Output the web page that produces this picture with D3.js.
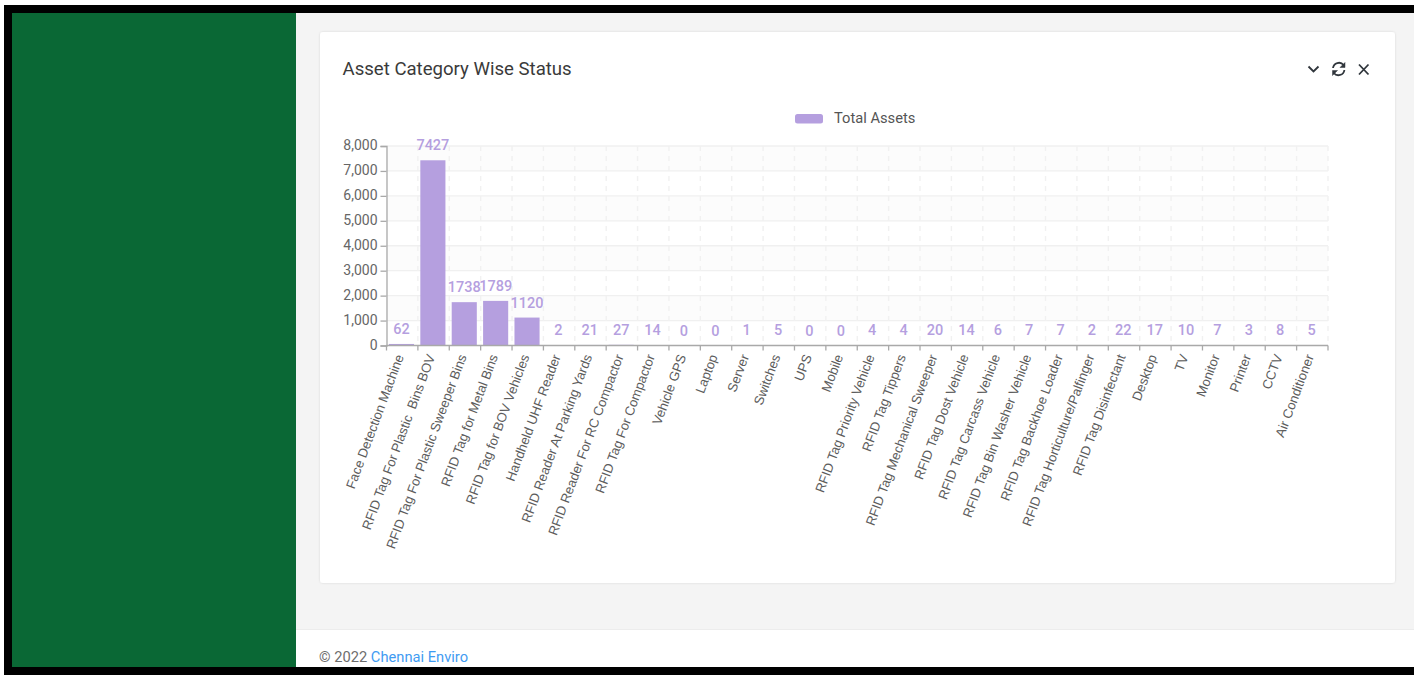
<!DOCTYPE html>
<html>
<head>
<meta charset="utf-8">
<script src="https://cdn.jsdelivr.net/npm/d3@7/dist/d3.min.js"></script>
<style>
  html, body { margin: 0; padding: 0; background: #fff; overflow: hidden; }
  svg { display: block; font-family: Roboto, sans-serif; }
  .cat-label { white-space: pre; }
</style>
</head>
<body>
<svg id="page" width="1414" height="677"></svg>
<script>
const categories = [
  "Face Detection Machine", "RFID Tag For Plastic  Bins BOV", "RFID Tag For Plastic Sweeper Bins",
  "RFID Tag for Metal Bins", "RFID Tag for BOV Vehicles", "Handheld UHF Reader",
  "RFID Reader At Parking Yards", "RFID Reader For RC Compactor", "RFID Tag For Compactor",
  "Vehicle GPS", "Laptop", "Server", "Switches", "UPS", "Mobile",
  "RFID Tag Priority Vehicle", "RFID Tag Tippers", "RFID Tag Mechanical Sweeper",
  "RFID Tag Dost Vehicle", "RFID Tag Carcass Vehicle", "RFID Tag Bin Washer Vehicle",
  "RFID Tag Backhoe Loader", "RFID Tag Horticulture/Palfinger", "RFID Tag Disinfectant",
  "Desktop", "TV", "Monitor", "Printer", "CCTV", "Air Conditioner"
];
const totalAssets = [
  62, 7427, 1738, 1789, 1120, 2, 21, 27, 14, 0, 0, 1, 5, 0, 0,
  4, 4, 20, 14, 6, 7, 7, 2, 22, 17, 10, 7, 3, 8, 5
];
const yTicks = [0, 1000, 2000, 3000, 4000, 5000, 6000, 7000, 8000];
const seriesName = "Total Assets";
const cardTitle = "Asset Category Wise Status";

const svg = d3.select("#page");

// Page shell: frame, sidebar, content area, footer
svg.append("rect").attr("width", 1414).attr("height", 677).attr("fill", "#fff");
svg.append("rect").attr("x", 296).attr("y", 13).attr("width", 1118).attr("height", 616).attr("fill", "#f4f4f4");
svg.append("rect").attr("x", 296).attr("y", 629).attr("width", 1118).attr("height", 1).attr("fill", "#ececec");
svg.append("rect").attr("x", 12).attr("y", 13).attr("width", 284).attr("height", 654).attr("fill", "#0a6835");
svg.append("rect").attr("x", 4).attr("y", 5).attr("width", 1410).attr("height", 8).attr("fill", "#000");
svg.append("rect").attr("x", 4).attr("y", 5).attr("width", 8).attr("height", 670).attr("fill", "#000");
svg.append("rect").attr("x", 4).attr("y", 667).attr("width", 1410).attr("height", 8).attr("fill", "#000");

// Card
const shadow = svg.append("defs").append("filter").attr("id", "cardShadow")
  .attr("x", "-2%").attr("y", "-2%").attr("width", "104%").attr("height", "104%");
shadow.append("feDropShadow").attr("dx", 0).attr("dy", 0).attr("stdDeviation", 1)
  .attr("flood-color", "#000").attr("flood-opacity", 0.12);
svg.append("rect").attr("x", 320).attr("y", 32).attr("width", 1075).attr("height", 551)
  .attr("rx", 3).attr("fill", "#fff").attr("filter", "url(#cardShadow)");

svg.append("text").attr("x", 342.5).attr("y", 75).attr("font-size", 18.6).attr("fill", "#3a3a3a").text(cardTitle);

// Card header controls
const icons = svg.append("g").attr("fill", "none").attr("stroke", "#30363c").attr("stroke-width", 1.8);
icons.append("path").attr("d", "M1308.5 66.5 L1313.5 71.5 L1318.5 66.5");
icons.append("path").attr("d", "M1359 64.5 L1368.5 74.5 M1368.5 64.5 L1359 74.5");
icons.append("path").attr("d", "M1333 68 A6 6 0 0 1 1343.6 65");
icons.append("path").attr("d", "M1344.4 70 A6 6 0 0 1 1333.8 73");
icons.append("path").attr("d", "M1345 62.5 L1345 67.5 L1340 67.5 Z").attr("fill", "#30363c").attr("stroke-width", 0.5);
icons.append("path").attr("d", "M1332.5 75.5 L1332.5 70.5 L1337.5 70.5 Z").attr("fill", "#30363c").attr("stroke-width", 0.5);

// Footer
const foot = svg.append("text").attr("x", 319).attr("y", 662).attr("font-size", 14.7).attr("fill", "#6c6c6c");
foot.append("tspan").text("© 2022 ");
foot.append("tspan").attr("fill", "#3f9bf2").text("Chennai Enviro");

// Legend
svg.append("rect").attr("x", 795).attr("y", 114).attr("width", 28).attr("height", 9.5).attr("rx", 2.5).attr("fill", "#b59fdf");
svg.append("text").attr("x", 834).attr("y", 122.5).attr("font-size", 14.7).attr("fill", "#555").text(seriesName);

// Chart
const plot = { left: 386.5, right: 1328, top: 146, bottom: 345.5 };
const x = d3.scaleBand().domain(categories).range([plot.left - 0.7, plot.right - 0.7]).paddingInner(0.2).paddingOuter(0.1);
const y = d3.scaleLinear().domain([0, 8000]).range([plot.bottom, plot.top]);
const boundaries = d3.range(categories.length + 1).map(i => plot.left + i * (plot.right - plot.left) / categories.length);

// Alternating background bands
svg.append("g").selectAll("rect").data(d3.pairs(yTicks)).join("rect")
  .attr("x", plot.left).attr("width", plot.right - plot.left)
  .attr("y", d => y(d[1])).attr("height", d => y(d[0]) - y(d[1]))
  .attr("fill", (d, i) => i % 2 ? "#fcfcfc" : "#fff");

// Grid
svg.append("g").selectAll("line").data(yTicks.slice(1)).join("line")
  .attr("x1", plot.left).attr("x2", plot.right)
  .attr("y1", d => y(d)).attr("y2", d => y(d))
  .attr("stroke", "#f0f0f0").attr("stroke-width", 1.3);
svg.append("g").selectAll("line").data(boundaries.slice(1)).join("line")
  .attr("x1", d => d).attr("x2", d => d)
  .attr("y1", plot.top).attr("y2", plot.bottom)
  .attr("stroke", "#f1f1f1").attr("stroke-width", 1.4).attr("stroke-dasharray", "5 5");

// Bars
svg.append("g").selectAll("rect").data(totalAssets).join("rect")
  .attr("x", (d, i) => x(categories[i]))
  .attr("width", x.bandwidth())
  .attr("y", d => y(d))
  .attr("height", d => y(0) - y(d))
  .attr("fill", "#b59fdf");

// Value labels
svg.append("g").selectAll("text").data(totalAssets).join("text")
  .attr("x", (d, i) => x(categories[i]) + x.bandwidth() / 2)
  .attr("y", d => y(d) - 10)
  .attr("text-anchor", "middle")
  .attr("font-size", 14.5).attr("font-weight", 500).attr("fill", "#b59fdf")
  .text(d => d);

// Value axis
const yAxis = d3.axisLeft(y).tickValues(yTicks).tickFormat(d3.format(",")).tickSize(6).tickPadding(3);
const yG = svg.append("g").attr("transform", `translate(${plot.left},0)`).call(yAxis);
yG.selectAll("path, line").attr("stroke", "#a9a9a9").attr("stroke-width", 1.3);
yG.selectAll("text").attr("font-size", 14).attr("font-family", "Roboto, sans-serif").attr("fill", "#666")
  .attr("dy", "0.25em");

// Category axis: ticks sit on band edges, labels are rotated under the band centres
const xG = svg.append("g").attr("transform", `translate(0,${plot.bottom})`);
xG.append("line").attr("x1", plot.left).attr("x2", plot.right).attr("stroke", "#a9a9a9").attr("stroke-width", 1.3);
xG.selectAll("line.edge").data(boundaries).join("line").attr("class", "edge")
  .attr("x1", d => d).attr("x2", d => d)
  .attr("y1", 0).attr("y2", 5).attr("stroke", "#a9a9a9").attr("stroke-width", 1.3);
xG.selectAll("text.cat-label").data(categories).join("text")
  .attr("class", "cat-label")
  .attr("transform", d => `translate(${x(d) + x.bandwidth() / 2 + 2.5},11) rotate(-69.5)`)
  .attr("text-anchor", "end")
  .attr("font-family", "'Liberation Sans', Arial, sans-serif")
  .attr("font-size", 13.2).attr("fill", "#5c5c5c")
  .text(d => d);
</script>
</body>
</html>
